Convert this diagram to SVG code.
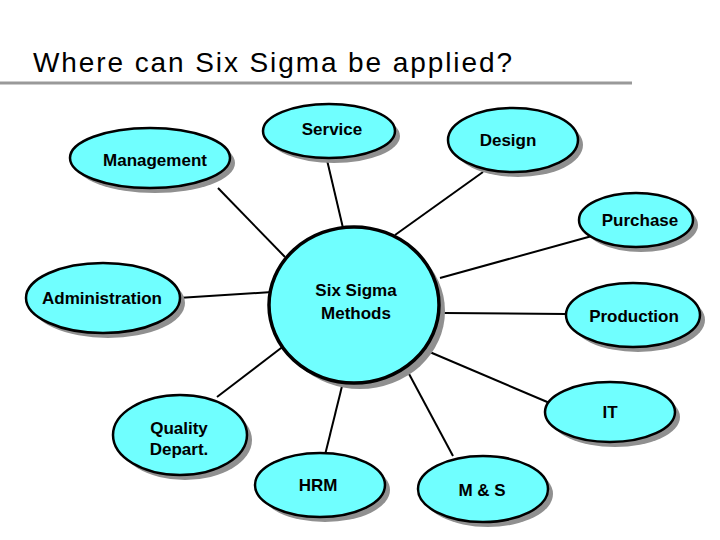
<svg xmlns="http://www.w3.org/2000/svg" width="720" height="540" viewBox="0 0 720 540">
<style>
.sh{fill:#909090}
.n{fill:#70ffff;stroke:#000;stroke-width:2.5}
.t{font-family:"Liberation Sans",Arial,sans-serif;font-weight:bold;font-size:17px;text-anchor:middle;fill:#000}
#edges line{stroke:#000;stroke-width:2}
</style>
<rect width="720" height="540" fill="#fff"/>
<text x="33" y="72" font-family="Liberation Sans,Arial,sans-serif" font-size="28" textLength="479" fill="#000">Where can Six Sigma be applied?</text>
<line x1="0" y1="83" x2="632" y2="83" stroke="#999" stroke-width="3"/>
<g id="edges">
<line x1="327" y1="160" x2="343" y2="228"/>
<line x1="483" y1="172" x2="395" y2="235"/>
<line x1="218" y1="188" x2="285" y2="257"/>
<line x1="592" y1="236" x2="440" y2="278"/>
<line x1="178" y1="298" x2="272" y2="292"/>
<line x1="444" y1="313" x2="566" y2="314"/>
<line x1="425" y1="350" x2="552" y2="404"/>
<line x1="217" y1="397" x2="285" y2="345"/>
<line x1="325" y1="455" x2="346" y2="370"/>
<line x1="453" y1="456" x2="408" y2="372"/>
</g>
<g id="center"><ellipse class="sh" cx="360" cy="311" rx="85" ry="78"/><ellipse cx="354" cy="305" rx="85" ry="78" fill="#70ffff" stroke="#000" stroke-width="3.5"/><text class="t" x="356" y="296">Six Sigma</text><text class="t" x="356" y="319">Methods</text></g>
<g id="service"><ellipse class="sh" cx="334" cy="136" rx="66" ry="27"/><ellipse class="n" cx="329" cy="131" rx="66" ry="27"/><text class="t" x="332" y="135">Service</text></g>
<g id="design"><ellipse class="sh" cx="518" cy="145" rx="65" ry="32"/><ellipse class="n" cx="513" cy="140" rx="65" ry="32"/><text class="t" x="508" y="146">Design</text></g>
<g id="management"><ellipse class="sh" cx="155" cy="163" rx="80" ry="30"/><ellipse class="n" cx="150" cy="158" rx="80" ry="30"/><text class="t" x="155" y="166">Management</text></g>
<g id="purchase"><ellipse class="sh" cx="641" cy="225" rx="57" ry="27"/><ellipse class="n" cx="636" cy="220" rx="57" ry="27"/><text class="t" x="640" y="226">Purchase</text></g>
<g id="administration"><ellipse class="sh" cx="108" cy="303" rx="77" ry="35"/><ellipse class="n" cx="103" cy="298" rx="77" ry="35"/><text class="t" x="102" y="304">Administration</text></g>
<g id="production"><ellipse class="sh" cx="638" cy="320" rx="67" ry="32"/><ellipse class="n" cx="633" cy="315" rx="67" ry="32"/><text class="t" x="634" y="322">Production</text></g>
<g id="it"><ellipse class="sh" cx="615" cy="417" rx="65" ry="30"/><ellipse class="n" cx="610" cy="412" rx="65" ry="30"/><text class="t" x="610" y="418">IT</text></g>
<g id="quality"><ellipse class="sh" cx="185" cy="440" rx="67" ry="40"/><ellipse class="n" cx="180" cy="435" rx="67" ry="40"/><text class="t" x="179" y="434">Quality</text><text class="t" x="179" y="455">Depart.</text></g>
<g id="hrm"><ellipse class="sh" cx="325" cy="490" rx="65" ry="32"/><ellipse class="n" cx="320" cy="485" rx="65" ry="32"/><text class="t" x="318" y="491">HRM</text></g>
<g id="ms"><ellipse class="sh" cx="488" cy="494" rx="65" ry="33"/><ellipse class="n" cx="483" cy="489" rx="65" ry="33"/><text class="t" x="482" y="496">M &amp; S</text></g>
</svg>
